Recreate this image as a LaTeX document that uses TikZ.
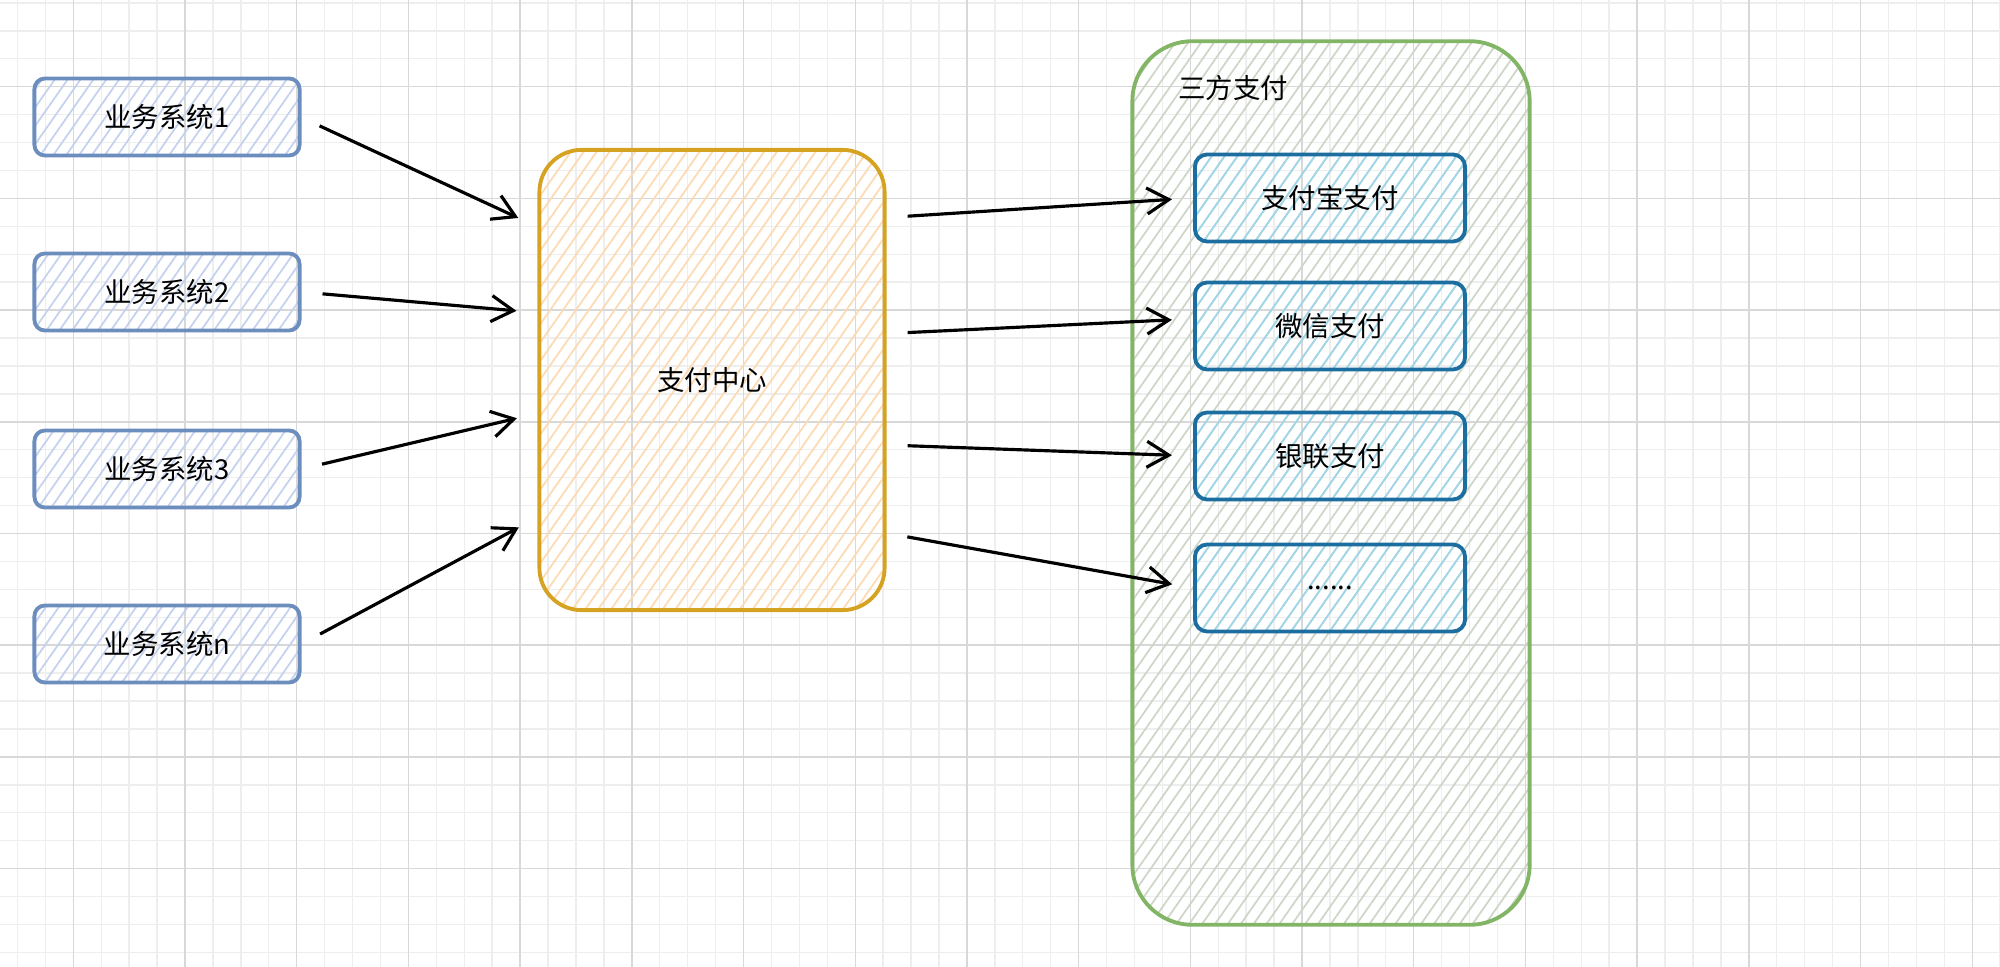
\documentclass[tikz,border=0pt]{standalone}
\usepackage{fontspec}
\setmainfont{Noto Sans CJK SC}
\usetikzlibrary{arrows.meta,patterns.meta,calc}

\definecolor{bizline}{RGB}{108,142,191}
\definecolor{bizfill}{RGB}{196,210,238}
\definecolor{payline}{RGB}{214,162,34}
\definecolor{payfill}{RGB}{252,218,178}
\definecolor{triline}{RGB}{130,182,102}
\definecolor{trifill}{RGB}{205,214,200}
\definecolor{chanline}{RGB}{28,110,160}
\definecolor{chanfill}{RGB}{160,214,234}
\definecolor{gridminor}{RGB}{238,238,238}
\definecolor{gridmajor}{RGB}{216,216,216}

\tikzset{
  hatch/.style={pattern={Lines[angle=55,distance=3pt,line width=0.5pt]}, pattern color=#1},
  txt/.style={font=\fontsize{7.8}{9}\selectfont},
  bizbox/.style={draw=bizline, line width=1.1pt, rounded corners=3pt, hatch=bizfill,
    minimum width=2.65cm, minimum height=0.77cm, txt},
  centerbox/.style={draw=payline, line width=1.1pt, rounded corners=12pt, hatch=payfill,
    minimum width=3.45cm, minimum height=4.6cm, txt},
  groupbox/.style={draw=triline, line width=1.1pt, rounded corners=17pt, hatch=trifill,
    minimum width=3.97cm, minimum height=8.83cm},
  chanbox/.style={draw=chanline, line width=1.1pt, rounded corners=3.5pt, hatch=chanfill,
    minimum width=2.7cm, minimum height=0.87cm, txt},
  flow/.style={line width=0.9pt, -{Straight Barb[length=2.2mm,width=2.6mm]},
    shorten <=6pt, shorten >=6pt},
}

\begin{document}
\begin{tikzpicture}[x=0.01cm,y=-0.01cm]
\useasboundingbox (0,0) rectangle (2000,967);
% grid
\foreach \k in {-2,...,69}
  \draw[gridminor, line width=0.4pt] ({73.3+27.925*\k},0) -- ++(0,967);
\foreach \k in {-3,...,31}
  \draw[gridminor, line width=0.4pt] (0,{86.7+27.925*\k}) -- ++(2000,0);
\foreach \k in {0,...,17}
  \draw[gridmajor, line width=0.4pt] ({73.3+111.7*\k},0) -- ++(0,967);
\foreach \k in {0,...,8}
  \draw[gridmajor, line width=0.4pt] (0,{86.7+111.7*\k}) -- ++(2000,0);

% business systems
\node[bizbox] (biz1) at (167,117) {业务系统1};
\node[bizbox] (biz2) at (167,292) {业务系统2};
\node[bizbox] (biz3) at (167,469) {业务系统3};
\node[bizbox] (bizn) at (167,644) {业务系统n};

% payment center
\node[centerbox] (pc) at (712,380) {支付中心};

% third party
\node[groupbox] (tp) at (1331,483) {};
\node[txt, anchor=west] (tplabel) at (1166,88) {三方支付};
\node[chanbox] (ali) at (1330,198) {支付宝支付};
\node[chanbox] (wx) at (1330,326) {微信支付};
\node[chanbox] (yl) at (1330,456) {银联支付};
\node[chanbox] (more) at (1330,588) {......};

% arrows in
\draw[flow] (biz1.east) -- ($(pc.north west)!0.17!(pc.south west)$);
\draw[flow] (biz2.east) -- ($(pc.north west)!0.355!(pc.south west)$);
\draw[flow] (biz3.east) -- ($(pc.north west)!0.572!(pc.south west)$);
\draw[flow] (bizn.east) -- ($(pc.north west)!0.796!(pc.south west)$);

% arrows out
\draw[flow] ($(pc.north east)!0.15!(pc.south east)$) -- (ali.west);
\draw[flow] ($(pc.north east)!0.40!(pc.south east)$) -- (wx.177);
\draw[flow] ($(pc.north east)!0.64!(pc.south east)$) -- (yl.west);
\draw[flow] ($(pc.north east)!0.83!(pc.south east)$) -- (more.west);
\end{tikzpicture}
\end{document}
